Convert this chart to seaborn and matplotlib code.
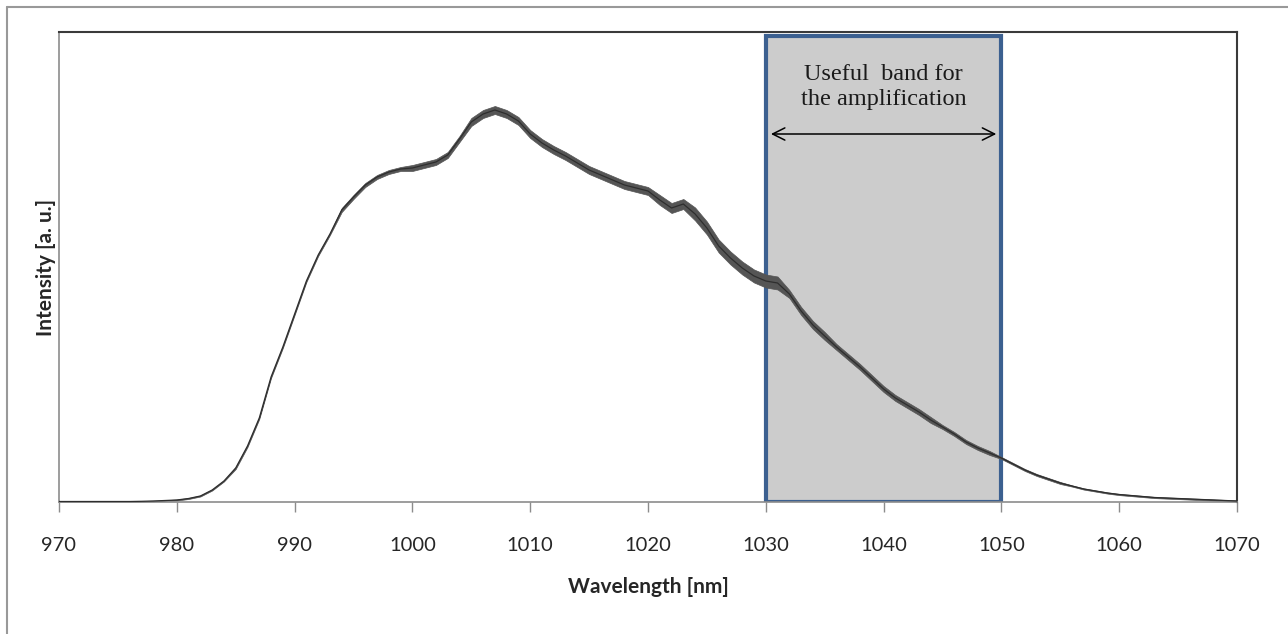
import matplotlib.pyplot as plt
import matplotlib.patches as patches
import numpy as np
import pandas as pd
import seaborn as sns
from matplotlib.lines import Line2D

# wavelength grid [nm], 1 nm step
wavelength = np.arange(970, 1071)

# intensity, arbitrary units (axis top = 470)
intensity = [
    0.5, 0.5, 0.5, 0.5, 0.5, 0.5, 0.5, 0.7, 1, 1.5,            # 970-979
    2, 3.5, 6, 12, 21, 34, 56, 84, 125, 155,                    # 980-989
    188, 221, 247, 268, 292, 305, 317, 325, 330, 333,           # 990-999
    334, 337, 340, 347, 363, 380, 388, 392, 388, 381,           # 1000-1009
    368, 359, 352, 346, 339, 332, 327, 322, 317, 314,           # 1010-1019
    311, 302, 294, 298, 288, 274, 256, 244, 234, 226,           # 1020-1029
    221, 219, 208, 191, 177, 166, 155, 145, 135, 124,           # 1030-1039
    113, 104, 97, 90, 82, 75, 68, 60, 54, 49,                   # 1040-1049
    44, 38, 32, 27, 23, 19, 16, 13, 11, 9,                      # 1050-1059
    7.5, 6.5, 5.5, 4.5, 4, 3.5, 3, 2.5, 2, 1.5,                 # 1060-1069
    1,                                                          # 1070
]

# half width of the noise band seen around the trace
noise = (
    [0.3] * 10 + [0.5] * 5 + [1] * 9 + [2] * 6 + [3] * 5
    + [4] * 16 + [5] * 3 + [6.5] * 8 + [4] * 4 + [3] * 9
    + [2] * 5 + [1] * 6 + [0.6] * 15
)

band = (1030, 1050)
xticks = list(range(970, 1071, 10))

df = pd.DataFrame({"wavelength": wavelength, "intensity": intensity, "noise": noise})

sns.set_theme(style="white")
plt.rcParams["font.family"] = ["Lato", "DejaVu Sans"]

fig = plt.figure(figsize=(12.88, 6.34), dpi=100)
ax = fig.add_axes((59 / 1288, 1 - 502 / 634, 1178 / 1288, 470 / 634))

# shaded useful band
rect = patches.Rectangle(
    (band[0], 0), band[1] - band[0], 466,
    facecolor="#cccccc", edgecolor="#3c6090", linewidth=3, zorder=1,
)
ax.add_patch(rect)

# noisy spectrum: envelope + centre line
ax.fill_between(
    df["wavelength"], df["intensity"] - df["noise"], df["intensity"] + df["noise"],
    color="#555555", linewidth=0.5, zorder=2,
)
sns.lineplot(data=df, x="wavelength", y="intensity", color="#2e2e2e", linewidth=0.9, ax=ax, zorder=3)

ax.text(
    sum(band) / 2, 415, "Useful  band for\nthe amplification",
    ha="center", va="center", fontsize=17.5, family=["Liberation Serif"],
    linespacing=1.25, color="#1a1a1a", zorder=4,
)
ax.annotate(
    "", xy=(band[1] - 0.2, 368), xytext=(band[0] + 0.2, 368),
    arrowprops=dict(arrowstyle="<->", color="black", lw=1.1, mutation_scale=22),
    zorder=4,
)

ax.set_xlim(970, 1070)
ax.set_ylim(0, 470)
ax.set_xticks(xticks)
ax.set_yticks([])
ax.tick_params(axis="x", direction="out", length=7, width=1, color="#8c8c8c",
               pad=18, labelsize=14.5, bottom=True)
ax.set_xlabel("Wavelength [nm]", fontsize=15, fontweight="bold", labelpad=17)
ax.set_ylabel("Intensity [a. u.]", fontsize=15, fontweight="bold", labelpad=2)

for side in ("left", "bottom"):
    ax.spines[side].set_color("#8c8c8c")
    ax.spines[side].set_linewidth(1.2)
for side in ("top", "right"):
    ax.spines[side].set_color("#3a3a3a")
    ax.spines[side].set_linewidth(1.5)

# outer chart frame (partly cut off at right and bottom)
fig.add_artist(Line2D([7 / 1288, 7 / 1288], [0, 1 - 7 / 634], color="#999999", lw=1.5))
fig.add_artist(Line2D([7 / 1288, 1], [1 - 7 / 634, 1 - 7 / 634], color="#999999", lw=1.5))

fig.savefig("out.png", dpi=100)
